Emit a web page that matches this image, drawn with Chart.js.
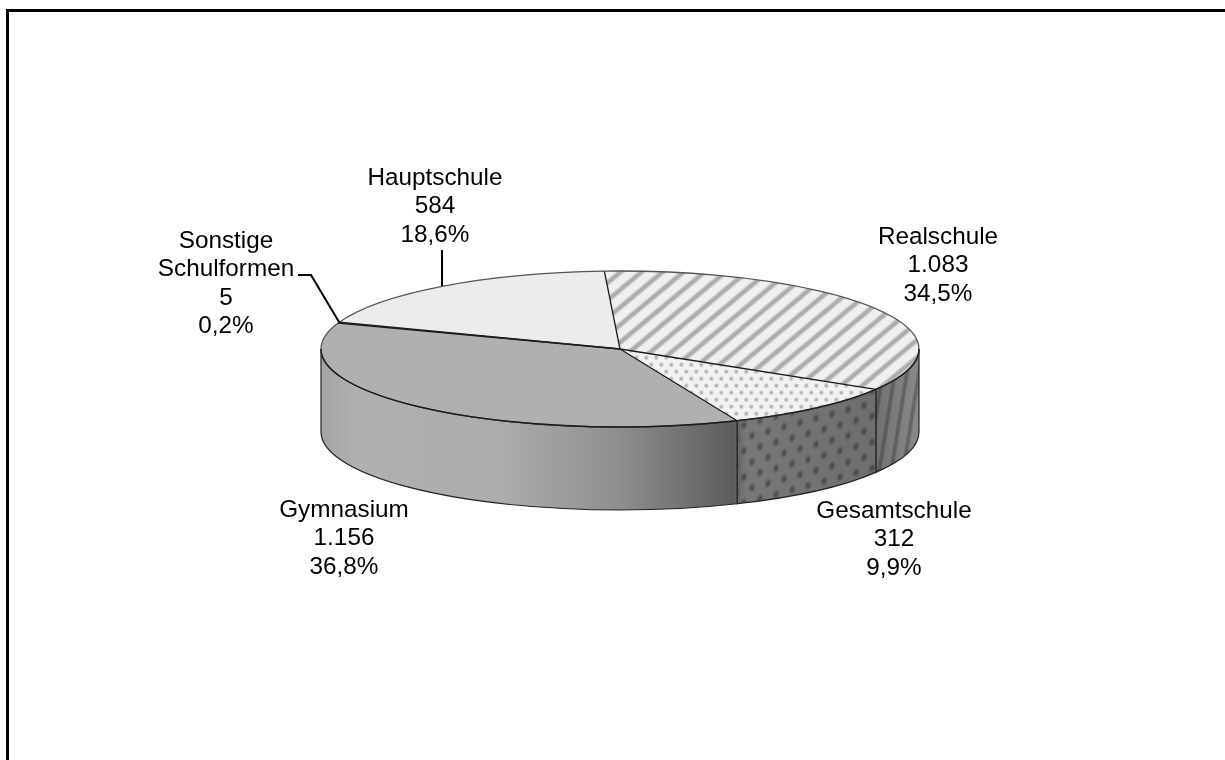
<!DOCTYPE html>
<html><head><meta charset="utf-8">
<style>html,body{margin:0;padding:0;background:#fff;width:1225px;height:760px;overflow:hidden}
canvas{position:absolute;left:0;top:0}</style>
<script src="https://cdn.jsdelivr.net/npm/chart.js@4"></script>
</head><body><canvas id="c" width="1225" height="760"></canvas>
<script>
const categories=['Realschule','Gesamtschule','Gymnasium','Sonstige Schulformen','Hauptschule'];
const seriesValues=[1083,312,1156,5,584];
const labelLines=[['Realschule','1.083','34,5%'],['Gesamtschule','312','9,9%'],['Gymnasium','1.156','36,8%'],['Sonstige','Schulformen','5','0,2%'],['Hauptschule','584','18,6%']];
const labelAnchors=[[938,244],[894,518],[344,517],[226,248],[435,185]];

const CX=620,CY=349,RX=299,RY=78,DEPTH=83;

// builds a seamless texture tile: fn(x,y) returns [grey, alpha]
function tile(w,h,fn){
  const c=document.createElement('canvas');c.width=w;c.height=h;
  const x=c.getContext('2d'),im=x.createImageData(w,h);
  for(let j=0;j<h;j++)for(let i=0;i<w;i++){
    const [g,a]=fn(i,j),k=4*(j*w+i);
    im.data[k]=im.data[k+1]=im.data[k+2]=g;im.data[k+3]=a;
  }
  x.putImageData(im,0,0);return c;
}
const smooth=(t)=>{t=Math.max(0,Math.min(1,t));return t*t*(3-2*t);};
// distance to nearest staggered lattice dot
function dotDist(i,j,w,h,ky){
  let best=1e9;
  for(const [a,b] of [[0,0],[w,0],[0,h],[w,h],[w/2,h/2]]){
    const d=Math.hypot(i+.5-a,(j+.5-b)*ky);if(d<best)best=d;
  }
  return best;
}
const ctx0=document.getElementById('c').getContext('2d');
const stripeTop=ctx0.createPattern(tile(21,35,(i,j)=>{
  const u=(i/21+j/17.5)%1,d=Math.abs(u-.5);
  const v=1-smooth((d-.07)/.2);
  return [Math.round(240-v*68),255];
}),'repeat');
const dotTop=ctx0.createPattern(tile(10,14,(i,j)=>{
  const v=1-smooth((dotDist(i,j,10,14,1)-1)/1.7);
  return [Math.round(242-v*66),255];
}),'repeat');
const stripeWall=ctx0.createPattern(tile(12,75,(i,j)=>{
  const u=((i+j*12/75)%12)/12,d=Math.abs(u-.5)*12;
  const v=1-smooth((d-.6)/2.6);
  return [30,Math.round(v*80)];
}),'repeat');
const dotWall=ctx0.createPattern(tile(16,26,(i,j)=>{
  const v=1-smooth((dotDist(i,j,16,26,.75)-.3)/4.2);
  return [35,Math.round(v*125)];
}),'repeat');
dotWall.setTransform(new DOMMatrix([1,-.27,0,1,736,388]));
const wallTextures=[stripeWall,dotWall];

function sideShade(ctx){
  const g=ctx.createLinearGradient(CX-RX,0,CX+RX,0);
  g.addColorStop(0,'#a4a4a4');g.addColorStop(0.06,'#b0b0b0');g.addColorStop(0.3,'#acacac');
  g.addColorStop(0.5,'#8e8e8e');g.addColorStop(0.69,'#5c5c5c');g.addColorStop(0.71,'#787878');g.addColorStop(0.92,'#6e6e6e');g.addColorStop(1,'#8a8a8a');
  return g;
}
const pie3d={
  id:'pie3d',
  beforeDatasetsDraw(chart){
    const ctx=chart.ctx,arcs=chart.getDatasetMeta(0).data,a0=arcs[0];
    const sx=RX/a0.outerRadius,sy=RY/a0.outerRadius;
    const inv=new DOMMatrix().scale(1/sx,1/sy);
    stripeTop.setTransform(inv);dotTop.setTransform(inv);
    arcs.forEach((a,i)=>{
      const s=Math.max(a.startAngle,0),e=Math.min(a.endAngle,Math.PI);
      if(e<=s)return;
      const path=()=>{
        ctx.beginPath();
        ctx.ellipse(CX,CY,RX,RY,0,s,e,false);
        ctx.ellipse(CX,CY+DEPTH,RX,RY,0,e,s,true);
        ctx.closePath();
      };
      ctx.save();
      path();ctx.fillStyle=sideShade(ctx);ctx.fill();
      if(wallTextures[i]){ctx.fillStyle=wallTextures[i];ctx.fill();}
      path();ctx.strokeStyle='#222';ctx.lineWidth=1.2;ctx.stroke();
      ctx.restore();
    });
    // squash the library's own arcs into the ellipse
    ctx.save();
    ctx.translate(CX,CY);ctx.scale(sx,sy);ctx.translate(-a0.x,-a0.y);
  },
  afterDatasetsDraw(chart){
    const ctx=chart.ctx,arcs=chart.getDatasetMeta(0).data;
    ctx.restore();
    // slice outlines at constant width
    ctx.save();
    arcs.forEach((a)=>{
      ctx.beginPath();ctx.ellipse(CX,CY,RX,RY,0,a.startAngle,a.endAngle);
      ctx.strokeStyle='#555';ctx.lineWidth=1.3;ctx.stroke();
    });
    ctx.beginPath();ctx.ellipse(CX,CY,RX,RY,0,0,Math.PI);ctx.strokeStyle='#1c1c1c';ctx.lineWidth=1.4;ctx.stroke();
    arcs.forEach((a)=>{
      ctx.beginPath();ctx.moveTo(CX,CY);
      ctx.lineTo(CX+RX*Math.cos(a.startAngle),CY+RY*Math.sin(a.startAngle));
      ctx.strokeStyle='#1c1c1c';ctx.lineWidth=1.3;ctx.stroke();
    });
    ctx.restore();
    // leader lines
    ctx.save();ctx.strokeStyle='#000';ctx.lineWidth=2;
    ctx.beginPath();ctx.moveTo(442,250);ctx.lineTo(442,286);ctx.stroke();
    ctx.beginPath();ctx.moveTo(298,275);ctx.lineTo(311,275);ctx.lineTo(339,322);ctx.stroke();
    ctx.restore();
    // data labels
    ctx.save();ctx.fillStyle='#000';ctx.font='24.3px "Liberation Sans"';ctx.textAlign='center';ctx.textBaseline='alphabetic';
    labelLines.forEach((lines,i)=>{
      lines.forEach((t,j)=>ctx.fillText(t,labelAnchors[i][0],labelAnchors[i][1]+j*28.3));
    });
    ctx.restore();
    // frame
    ctx.save();ctx.strokeStyle='#000';ctx.lineWidth=3;
    ctx.beginPath();ctx.moveTo(7.5,760);ctx.lineTo(7.5,10.5);ctx.lineTo(1225,10.5);ctx.stroke();
    ctx.restore();
  }
};
Chart.defaults.animation=false;
new Chart(document.getElementById('c'),{
  type:'pie',
  data:{labels:categories,datasets:[{data:seriesValues,
    backgroundColor:[stripeTop,dotTop,'#b0b0b0','#ececec','#ececec'],
    borderWidth:0}]},
  plugins:[pie3d],
  options:{responsive:false,animation:false,rotation:-3,
    layout:{padding:20},
    plugins:{legend:{display:false},tooltip:{enabled:false}}}
});
</script></body></html>
